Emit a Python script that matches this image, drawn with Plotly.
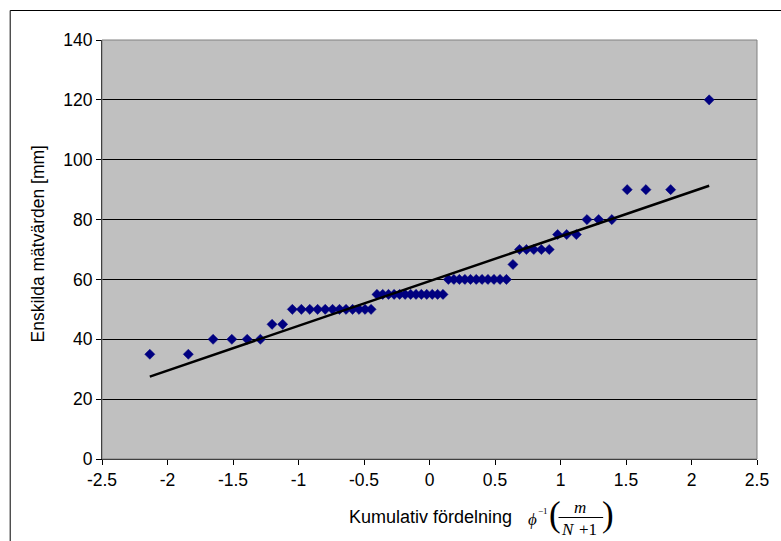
import plotly.graph_objects as go
import numpy as np

# Normal scores phi^-1(m/(N+1)) (N = 60)
x_scores = [-2.135, -1.841, -1.652, -1.509, -1.392, -1.291, -1.202, -1.121, -1.047, -0.978,
            -0.914, -0.854, -0.796, -0.740, -0.687, -0.637, -0.587, -0.538, -0.492, -0.446,
            -0.401, -0.357, -0.313, -0.270, -0.228, -0.186, -0.144, -0.103, -0.062, -0.021,
            0.021, 0.062, 0.103, 0.144, 0.186, 0.228, 0.270, 0.313, 0.357, 0.401,
            0.446, 0.492, 0.538, 0.587, 0.637, 0.687, 0.740, 0.796, 0.854, 0.914,
            0.978, 1.047, 1.121, 1.202, 1.291, 1.392, 1.509, 1.652, 1.841, 2.135]
# Individual measured values [mm], sorted
y_values = [35, 35, 40, 40, 40, 40, 45, 45, 50, 50,
            50, 50, 50, 50, 50, 50, 50, 50, 50, 50,
            55, 55, 55, 55, 55, 55, 55, 55, 55, 55,
            55, 55, 55, 60, 60, 60, 60, 60, 60, 60,
            60, 60, 60, 60, 65, 70, 70, 70, 70, 70,
            75, 75, 75, 80, 80, 80, 90, 90, 90, 120]

x_ticks = [-2.5, -2, -1.5, -1, -0.5, 0, 0.5, 1, 1.5, 2, 2.5]
x_tick_labels = ["-2.5", "-2", "-1.5", "-1", "-0.5", "0", "0.5", "1", "1.5", "2", "2.5"]
y_ticks = [0, 20, 40, 60, 80, 100, 120, 140]

slope, intercept = np.polyfit(x_scores, y_values, 1)
line_x = [min(x_scores), max(x_scores)]
line_y = [slope * v + intercept for v in line_x]

W, H = 781, 541
L, R, T, B = 102, 19, 40, 82
PW, PH = W - L - R, H - T - B

def px(xp):
    return (xp - L) / PW

def py(yp):
    return (H - B - yp) / PH

fig = go.Figure()
fig.add_trace(go.Scatter(x=x_scores, y=y_values, mode="markers",
                         marker=dict(symbol="diamond", size=7.8, color="#000080",
                                     line=dict(color="#000080", width=0.5)),
                         showlegend=False, hoverinfo="x+y"))
fig.add_trace(go.Scatter(x=line_x, y=line_y, mode="lines",
                         line=dict(color="black", width=2.5),
                         showlegend=False, hoverinfo="skip"))

sans = "Liberation Sans, Arial, sans-serif"
serif = "Liberation Serif, Times New Roman, serif"

fig.update_layout(
    width=W, height=H, autosize=False,
    margin=dict(l=L, r=R, t=T, b=B, pad=0),
    paper_bgcolor="white", plot_bgcolor="#C0C0C0",
    font=dict(family=sans, size=17.5, color="black"),
    xaxis=dict(range=[-2.5, 2.5], tickvals=x_ticks, ticktext=x_tick_labels,
               showgrid=False, zeroline=False, showline=True, linecolor="black",
               linewidth=1, ticks="outside", ticklen=5, tickcolor="black",
               tickfont=dict(size=17.5, family=sans)),
    yaxis=dict(range=[0, 140], tickvals=y_ticks, showgrid=True, gridcolor="black",
               gridwidth=1, zeroline=False, showline=True, linecolor="black",
               linewidth=1, ticks="outside", ticklen=5, tickcolor="black",
               tickfont=dict(size=17.5, family=sans)),
)

shapes = [
    # plot-area border (grey)
    dict(type="rect", xref="paper", yref="paper", x0=0, x1=1, y0=0, y1=1,
         line=dict(color="#808080", width=1), layer="above"),
    # chart outer border
    dict(type="rect", xref="paper", yref="paper", x0=px(9.5), x1=px(800),
         y0=py(560), y1=py(10.5), line=dict(color="black", width=1)),
    # fraction bar
    dict(type="line", xref="paper", yref="paper", x0=px(562), x1=px(607),
         y0=py(517.5), y1=py(517.5), line=dict(color="black", width=1)),
]
fig.update_layout(shapes=shapes)

def ann(text, xp, yp, size, family=sans, italic=False):
    f = dict(size=size, family=family, color="black")
    if italic:
        f["style"] = "italic"
    return dict(text=text, x=px(xp), y=py(yp), xref="paper", yref="paper",
                showarrow=False, xanchor="center", yanchor="middle", borderpad=0,
                font=f)

annotations = [
    ann("Enskilda mätvärden [mm]", 38, 244, 17.5),
    ann("Kumulativ fördelning", 433, 517, 18),
    ann("ϕ", 536, 519, 17, serif, italic=True),
    ann("−1", 546, 511, 9, serif),
    ann("(", 558, 514, 35, serif),
    ann("m", 584, 507, 17, serif, italic=True),
    ann("N", 572, 529, 17, serif, italic=True),
    ann("+1", 592, 529, 17, serif),
    ann(")", 611.5, 514, 35, serif),
]
annotations[0]["textangle"] = -90
fig.update_layout(annotations=annotations)

fig.write_html("out.html")
